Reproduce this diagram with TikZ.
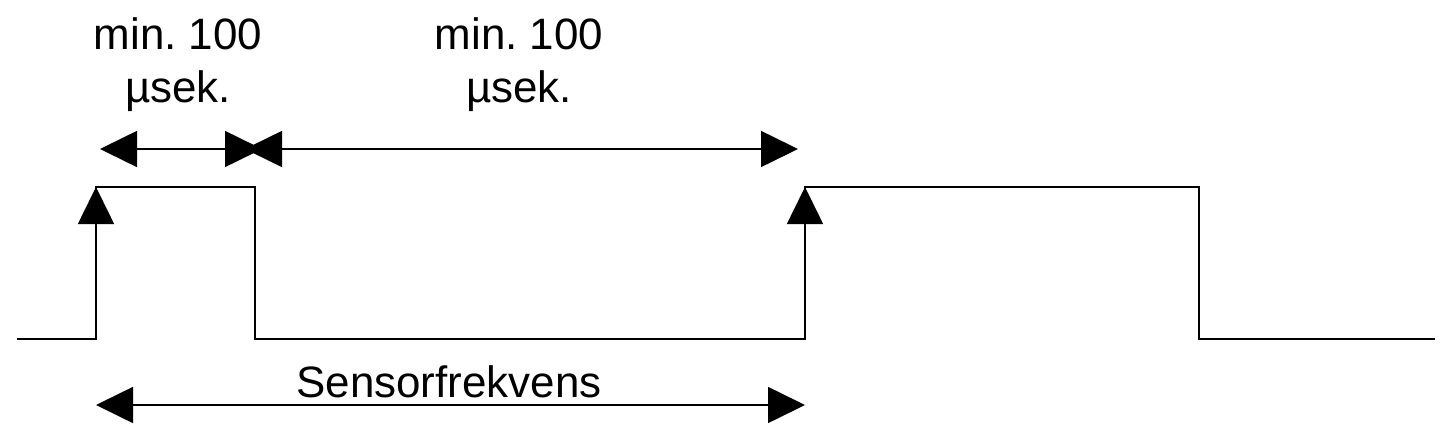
\documentclass[tikz,border=0pt]{standalone}
\usepackage{fontspec}
\setmainfont{Liberation Sans}
\usetikzlibrary{arrows.meta}
\begin{document}
\begin{tikzpicture}[
  sig/.style={line width=0.9pt},
  tip/.style={-{Triangle[length=7.4mm,width=7.2mm]}},
  both/.style={{Triangle[length=7.4mm,width=7.2mm]}-{Triangle[length=7.4mm,width=7.2mm]}},
  lbl/.style={font=\fontsize{25}{29.6}\selectfont,align=center,anchor=base}]
 \useasboundingbox (0,0) rectangle (29,8.88);
 % signal levels
 \coordinate (lo0) at (0.34,2.10);
 \coordinate (r1b) at (1.92,2.10);
 \coordinate (r1t) at (1.92,5.14);
 \coordinate (f1t) at (5.10,5.14);
 \coordinate (f1b) at (5.10,2.10);
 \coordinate (r2b) at (16.10,2.10);
 \coordinate (r2t) at (16.10,5.14);
 \coordinate (f2t) at (23.98,5.14);
 \coordinate (f2b) at (23.98,2.10);
 \coordinate (lo1) at (28.70,2.10);
 \draw[sig] (lo0) -- (r1b) -- (r1t) -- (f1t) -- (f1b) -- (r2b) -- (r2t) -- (f2t) -- (f2b) -- (lo1);
 \foreach \b/\t in {r1b/r1t,r2b/r2t}
   \draw[sig,tip] (\b) -- (\t);
 % timing marks
 \coordinate (a1) at (2.00,5.90);
 \coordinate (a2) at (5.24,5.90);
 \coordinate (a3) at (4.90,5.90);
 \coordinate (a4) at (15.96,5.90);
 \coordinate (b1) at (1.92,0.78);
 \coordinate (b2) at (16.10,0.78);
 \draw[sig,both] (a1) -- (a2);
 \draw[sig,both] (a3) -- (a4);
 \draw[sig,both] (b1) -- (b2);
 \node[lbl] (t1) at (3.56,6.84) {min.\ 100\\µsek.};
 \node[lbl] (t2) at (10.38,6.84) {min.\ 100\\µsek.};
 \node[lbl] (sf) at (8.98,0.94) {Sensorfrekvens};
\end{tikzpicture}
\end{document}
